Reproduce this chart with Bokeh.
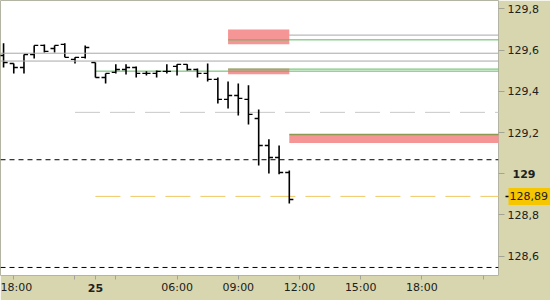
from bokeh.plotting import figure
from bokeh.models import (Range1d, FixedTicker, CustomJSTickFormatter, LinearAxis, Span,
                          ColumnDataSource)
from bokeh.embed import file_html
from bokeh.resources import INLINE

# ---- data: 30-minute OHLC bars (x = bar slot, 0 = 06:00) ----
bar_idx = list(range(-17, 12))
opens = [129.574, 129.535, 129.516, 129.579, 129.623, 129.608, 129.628, 129.555,
         129.565, 129.540, 129.467, 129.492, 129.506, 129.516, 129.487, 129.487,
         129.497, 129.521, 129.531, 129.506, 129.487, 129.458, 129.361, 129.380,
         129.361, 129.268, 129.137, 129.079, 129.006]
highs = [129.633, 129.535, 129.579, 129.623, 129.628, 129.623, 129.633, 129.565,
         129.623, 129.540, 129.487, 129.531, 129.531, 129.521, 129.497, 129.501,
         129.531, 129.531, 129.531, 129.511, 129.535, 129.467, 129.448, 129.438,
         129.429, 129.312, 129.167, 129.137, 129.016]
lows = [129.516, 129.487, 129.487, 129.560, 129.589, 129.589, 129.565, 129.535,
        129.560, 129.467, 129.438, 129.487, 129.482, 129.467, 129.477, 129.467,
        129.487, 129.477, 129.501, 129.467, 129.448, 129.341, 129.317, 129.283,
        129.239, 129.040, 129.001, 128.997, 128.856]
closes = [129.540, 129.516, 129.579, 129.623, 129.594, 129.623, 129.565, 129.565,
          129.613, 129.467, 129.487, 129.506, 129.516, 129.487, 129.487, 129.497,
          129.497, 129.531, 129.506, 129.487, 129.458, 129.361, 129.380, 129.366,
          129.288, 129.137, 129.079, 129.006, 128.875]

x_ticks = [-16, -10, -8, -6, 0, 6, 12, 18, 24, 30]
x_tick_labels = {-16: "18:00", -10: "", -8: "", -6: "", 0: "06:00", 6: "09:00",
                 12: "12:00", 18: "15:00", 24: "18:00", 30: ""}
day_tick = -8
day_label = "25"

y_ticks = [128.6, 128.8, 129.0, 129.2, 129.4, 129.6, 129.8]
y_bold_tick = 129.0
y_bold_label = "129"

# levels
full_gray_levels = [129.585, 129.547]
zone_gray_start = [5]
zone_gray_level = [129.673]
zone_x0 = [5, 5, 11]
zone_x1 = [11, 11, 40]
zone_bottom = [129.629, 129.483, 129.149]
zone_top = [129.700, 129.511, 129.191]
green_start = [5, 5, -8]
green_levels = [129.650, 129.508, 129.498]
olive_start = [11]
olive_level = [129.191]
gray_dash_start = [-10]
gray_dash_level = [129.298]
black_dash_levels = [129.068, 128.545]
last_start = [-8]
last_price = 128.89
last_label = "128,89"

KHAKI = "#D8D6AE"
GOLD = "#F6C700"
FONT = "DejaVu Sans"
TXT = "#202020"
TICK = "#A4A496"

p = figure(width=550, height=300, x_range=Range1d(-17.3, 31.5),
           y_range=Range1d(128.506, 129.841), y_axis_location="right",
           toolbar_location=None, output_backend="svg",
           min_border_left=0, min_border_top=0, min_border_right=52, min_border_bottom=25)
p.border_fill_color = KHAKI
p.background_fill_color = "white"
p.outline_line_color = "#B4B4A4"
p.xgrid.visible = False
p.ygrid.visible = False

# full-width levels
for lv in full_gray_levels:
    p.add_layout(Span(location=lv, dimension="width", line_color="#A8A8A8", line_width=1))
for lv in black_dash_levels:
    p.add_layout(Span(location=lv, dimension="width", line_color="black", line_width=1,
                      line_dash="5 4"))

p.ray(x=zone_gray_start, y=zone_gray_level, length=0, angle=0, line_color="#A8A8A8", line_width=1)
p.ray(x=gray_dash_start, y=gray_dash_level, length=0, angle=0, line_color="#C8C8C8",
      line_width=1, line_dash="25 10")
p.ray(x=last_start, y=[last_price], length=0, angle=0, line_color="#F0C864",
      line_width=1, line_dash="25 10")

p.quad(left=zone_x0, right=zone_x1, bottom=zone_bottom, top=zone_top,
       fill_color="#F59595", line_color=None)

p.ray(x=green_start, y=green_levels, length=0, angle=0, line_color="#5CBA5C", line_width=1)
p.ray(x=olive_start, y=olive_level, length=0, angle=0, line_color="#8E9A50", line_width=1.5)

# OHLC bars
tick_w = 0.4
src = ColumnDataSource(dict(
    x=bar_idx, o=opens, h=highs, l=lows, c=closes,
    xl=[x - tick_w for x in bar_idx], xr=[x + tick_w for x in bar_idx]))
p.segment(x0="x", y0="l", x1="x", y1="h", source=src, line_color="black", line_width=1.6)
p.segment(x0="xl", y0="o", x1="x", y1="o", source=src, line_color="black", line_width=1.4)
p.segment(x0="x", y0="c", x1="xr", y1="c", source=src, line_color="black", line_width=1.4)


def style_axis(ax):
    ax.minor_tick_line_color = None
    ax.axis_line_color = None
    ax.major_label_text_font = FONT
    ax.major_label_text_font_size = "11px"
    ax.major_label_text_color = TXT


def const_label(text):
    return CustomJSTickFormatter(args=dict(t=text), code="return t;")


# main time axis
xa = p.xaxis[0]
style_axis(xa)
xa.ticker = FixedTicker(ticks=x_ticks)
xa.major_label_overrides = x_tick_labels
xa.major_tick_in = 0
xa.major_tick_out = 4
xa.major_tick_line_color = TICK
xa.major_label_standoff = 1

# bold day label, stacked below but pulled back onto the same row
xb = LinearAxis(ticker=FixedTicker(ticks=[day_tick]), formatter=const_label(day_label))
style_axis(xb)
xb.major_tick_in = 0
xb.major_tick_out = 0
xb.major_tick_line_color = None
xb.major_label_standoff = -13
xb.major_label_text_font_style = "bold"
p.add_layout(xb, "below")

# main price axis
ya = p.yaxis[0]
style_axis(ya)
ya.ticker = FixedTicker(ticks=y_ticks)
ya.formatter = CustomJSTickFormatter(args=dict(b=y_bold_tick), code="""
    const v = Math.round(tick * 10) / 10;
    if (Math.abs(v - b) < 1e-6) return "";
    return v.toString().replace('.', ',');
""")
ya.major_tick_in = 0
ya.major_tick_out = 6
ya.major_tick_line_color = TICK
ya.major_label_standoff = 3

# small black marker tick at the last price (reaches back to the frame side)
ym = LinearAxis(ticker=FixedTicker(ticks=[last_price]), formatter=const_label(""))
style_axis(ym)
ym.major_tick_line_color = "black"
ym.major_tick_line_width = 1.5
ym.major_tick_in = 36
ym.major_tick_out = 0
ym.major_label_standoff = 0
p.add_layout(ym, "right")

# last-price marker: a wide gold tick carrying the price label
yl = LinearAxis(ticker=FixedTicker(ticks=[last_price]), formatter=const_label(last_label))
style_axis(yl)
yl.major_tick_line_color = GOLD
yl.major_tick_line_width = 17
yl.major_tick_in = 33
yl.major_tick_out = 11
yl.major_label_standoff = -43
p.add_layout(yl, "right")

# bold round-number label
yb = LinearAxis(ticker=FixedTicker(ticks=[y_bold_tick]), formatter=const_label(y_bold_label))
style_axis(yb)
yb.major_tick_in = 0
yb.major_tick_out = 0
yb.major_tick_line_color = None
yb.major_label_standoff = -38
yb.major_label_text_font_style = "bold"
p.add_layout(yb, "right")

open("out.html", "w").write(file_html(p, INLINE))
